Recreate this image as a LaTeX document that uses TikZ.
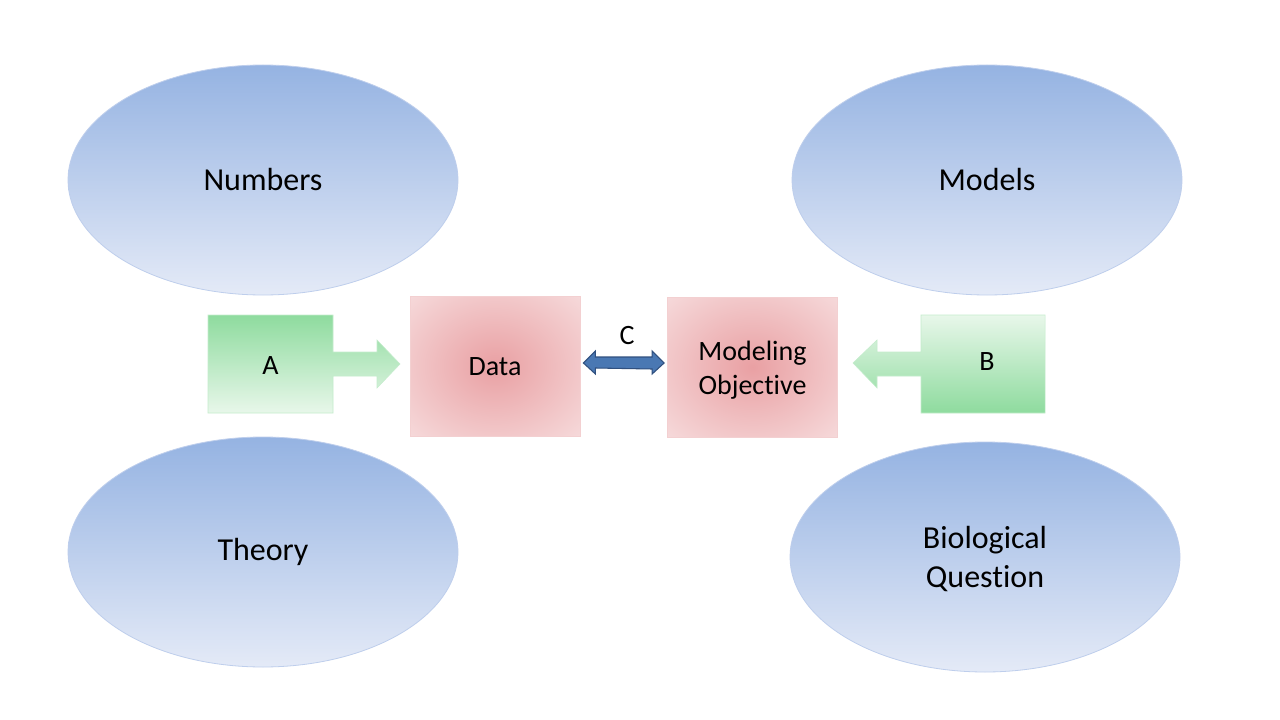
\documentclass[tikz,border=0pt]{standalone}
\usepackage{fontspec}
\setmainfont{Carlito}[Ligatures={NoCommon}]
\usetikzlibrary{shapes.geometric,calc}
\definecolor{elltop}{RGB}{149,179,226}
\definecolor{ellbot}{RGB}{228,234,247}
\definecolor{elldraw}{RGB}{190,206,236}
\definecolor{redin}{RGB}{233,160,163}
\definecolor{redout}{RGB}{246,218,219}
\definecolor{reddraw}{RGB}{243,208,209}
\definecolor{grn}{RGB}{142,219,158}
\definecolor{grnlt}{RGB}{232,247,234}
\definecolor{cfill}{RGB}{74,120,179}
\definecolor{cdraw}{RGB}{48,80,127}
\pgfdeclareradialshading{softred}{\pgfpoint{0bp}{0bp}}{color(0bp)=(redin); color(36bp)=(redout); color(50bp)=(redout)}
\tikzset{
  oval/.style={ellipse, minimum width=292.5pt, minimum height=172.5pt, top color=elltop, bottom color=ellbot, draw=elldraw, line width=0.6pt, align=center, font=\fontsize{24}{29}\selectfont, text=black},
  ovaltext/.style={align=center, font=\fontsize{24}{29}\selectfont, text=black},
  redbox/.style={rectangle, minimum width=127.5pt, minimum height=105pt, shading=softred, draw=reddraw, line width=0.6pt, align=center, font=\fontsize{21}{25.5}\selectfont},
  boxtext/.style={align=center, font=\fontsize{21}{25.5}\selectfont, text=black},
  lbl/.style={font=\fontsize{21}{25}\selectfont, text=black},
  greenA/.style={top color=grn, bottom color=grnlt, draw=grnlt!60!grn, line width=0.4pt},
  greenB/.style={top color=grnlt, bottom color=grn, draw=grnlt!60!grn, line width=0.4pt}
}
\begin{document}
\begin{tikzpicture}[x=0.75pt,y=-0.75pt]
\useasboundingbox[fill=white] (0,0) rectangle (1280,720);
% ovals
\node[oval] (numbers) at (263,180) {Numbers};
\node[oval] (models) at (987,180) {Models};
\node[oval] (theory) at (263,552) {Theory};
\node[oval] (bio) at (985,557) {};
\node[ovaltext] (biotext) at ($(bio.center)+(0,2)$) {Biological\\Question};
% boxes
\node[redbox] (data) at (495,366) {};
\node[boxtext] (datatext) at ($(data.center)+(0,1)$) {Data};
\node[redbox] (obj) at (752.5,367) {};
\node[boxtext] (objtext) at ($(obj.center)+(0,3)$) {Modeling\\Objective};
% A callout
\path[greenA] (208,315) -- (333,315) -- (333,352) -- (377,352) -- (377,340) -- (400,364)
  -- (377,388) -- (377,376) -- (333,376) -- (333,413) -- (208,413) -- cycle;
\node[lbl] (A) at (270.5,366) {A};
% B callout
\path[greenB] (1045,315) -- (921,315) -- (921,352) -- (877,352) -- (877,340) -- (853,363)
  -- (877,388) -- (877,376) -- (921,376) -- (921,413) -- (1045,413) -- cycle;
\node[lbl] (B) at (987,362) {B};
% C double arrow
\coordinate (cl) at ($(data.east)+(3,-3)$);
\coordinate (cr) at ($(obj.west)+(-3,-4)$);
\path[fill=cfill, draw=cdraw, line width=0.8pt]
  (cl) -- ++(12,-12) -- ++(0,6) -- ($(cr)+(-12,-6)$) -- ++(0,-6) -- (cr)
  -- ++(-12,11) -- ++(0,-5) -- ($(cl)+(12,5)$) -- ++(0,6) -- cycle;
\node[lbl] (C) at (627,336) {C};
\end{tikzpicture}
\end{document}
